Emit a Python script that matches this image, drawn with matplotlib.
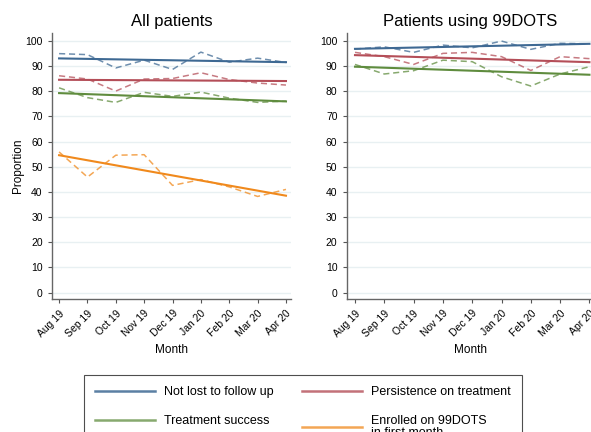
import matplotlib
matplotlib.use("Agg")
import matplotlib.pyplot as plt
from matplotlib.lines import Line2D

plt.rcParams['font.family'] = ['Liberation Sans', 'DejaVu Sans']

months = ["Aug 19", "Sep 19", "Oct 19", "Nov 19", "Dec 19", "Jan 20", "Feb 20", "Mar 20", "Apr 20"]

# all patients, monthly observed values
all_not_lost = [95.0, 94.6, 89.3, 92.4, 88.7, 95.6, 91.6, 93.2, 91.5]
all_persist = [86.2, 84.9, 80.1, 84.9, 85.1, 87.4, 84.7, 83.3, 82.5]
all_success = [81.4, 77.5, 75.6, 79.6, 78.0, 79.7, 77.3, 75.6, 76.1]
all_enrolled = [55.9, 45.9, 54.6, 54.8, 42.6, 44.9, 42.0, 38.2, 41.0]
# fitted trend start / end values
all_not_lost_trend = [93.1, 91.6]
all_persist_trend = [84.6, 84.1]
all_success_trend = [79.3, 76.0]
all_enrolled_trend = [54.6, 38.5]

# patients using 99DOTS
dots_not_lost = [96.8, 97.7, 95.5, 98.4, 97.3, 100.0, 96.7, 99.1, 98.9]
dots_persist = [95.5, 93.8, 90.7, 95.1, 95.5, 93.8, 88.3, 93.8, 93.0]
dots_success = [90.7, 86.9, 88.2, 92.4, 91.8, 85.8, 82.1, 86.9, 89.8]
dots_not_lost_trend = [96.9, 98.9]
dots_persist_trend = [94.4, 91.6]
dots_success_trend = [89.8, 86.6]

blue = "#3e6993"
red = "#b44e58"
green = "#5f8c3e"
orange = "#f0891c"

fig = plt.figure(figsize=(5.91, 4.32), dpi=100)
ax1 = fig.add_axes([0.0875, 0.3072, 0.405, 0.6164])
ax2 = fig.add_axes([0.5863, 0.3072, 0.4190, 0.6164])

x = list(range(len(months)))
ends = [x[0], x[-1]]


def draw(ax, series, xlim):
    for vals, trend, col in series:
        ax.plot(x, vals, color=col, lw=1.1, ls=(0, (4, 2.5)), alpha=0.75)
        ax.plot(ends, trend, color=col, lw=1.5)
    ax.set_xlim(*xlim)
    ax.set_ylim(-2.7, 103.2)
    ax.set_yticks(range(0, 101, 10))
    ax.set_xticks(x)
    ax.set_xticklabels(months, rotation=45, ha="right", rotation_mode="anchor", fontsize=7.5)
    ax.tick_params(axis="y", labelsize=7.5, length=3, color="#555555")
    ax.tick_params(axis="x", length=3, color="#555555")
    ax.grid(axis="y", color="#e8f0f2", lw=1)
    ax.set_axisbelow(True)
    for s in ["top", "right"]:
        ax.spines[s].set_visible(False)
    for s in ["left", "bottom"]:
        ax.spines[s].set_color("#666666")
        ax.spines[s].set_linewidth(1.0)
    ax.set_xlabel("Month", fontsize=8.5)


draw(ax1, [(all_not_lost, all_not_lost_trend, blue),
           (all_persist, all_persist_trend, red),
           (all_success, all_success_trend, green),
           (all_enrolled, all_enrolled_trend, orange)], (-0.26, 8.18))
draw(ax2, [(dots_not_lost, dots_not_lost_trend, blue),
           (dots_persist, dots_persist_trend, red),
           (dots_success, dots_success_trend, green)], (-0.29, 8.16))

ax1.set_title("All patients", fontsize=12, pad=5)
ax2.set_title("Patients using 99DOTS", fontsize=12, pad=5)
ax1.set_ylabel("Proportion", fontsize=8.5, labelpad=1)

handles = [Line2D([], [], color=blue, lw=1.8, alpha=0.85),
           Line2D([], [], color=green, lw=1.8, alpha=0.75),
           Line2D([], [], color=red, lw=1.8, alpha=0.8),
           Line2D([], [], color=orange, lw=1.8, alpha=0.75)]
labels = ["Not lost to follow up", "Treatment success",
          "Persistence on treatment", "Enrolled on 99DOTS\nin first month"]
leg = fig.legend(handles, labels, loc="upper left", bbox_to_anchor=(84 / 591, 1 - 375 / 432),
                 borderaxespad=0, ncol=2, fontsize=9, frameon=True, fancybox=False,
                 edgecolor="#222222", handlelength=4.8, handletextpad=0.7,
                 columnspacing=2.3, labelspacing=1.35, borderpad=0.9)
leg.get_frame().set_linewidth(0.8)
leg.get_texts()[3].set_linespacing(0.95)

fig.savefig("out.png", dpi=100)
